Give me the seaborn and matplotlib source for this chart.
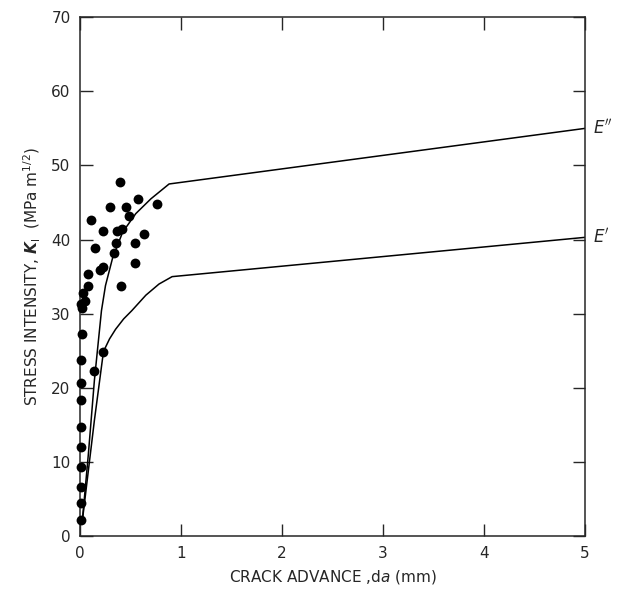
import pandas as pd
import numpy as np
import matplotlib.pyplot as plt
import seaborn as sns

# measured crack advance (mm) vs stress intensity (MPa m^1/2)
pts_da = [0.39, 0.57, 0.29, 0.45, 0.48, 0.76, 0.11, 0.23, 0.36, 0.41, 0.63,
          0.15, 0.35, 0.54, 0.33, 0.54, 0.23, 0.20, 0.08, 0.40, 0.08, 0.03,
          0.05, 0.02, 0.23, 0.14,
          0.02, 0.01, 0.01, 0.01, 0.01, 0.01, 0.01, 0.01, 0.01, 0.01, 0.01]
pts_k = [47.7, 45.5, 44.4, 44.4, 43.2, 44.8, 42.7, 41.2, 41.1, 41.4, 40.8,
         38.8, 39.5, 39.5, 38.2, 36.9, 36.3, 35.9, 35.4, 33.7, 33.7, 32.8,
         31.7, 30.8, 24.9, 22.3,
         27.3, 23.7, 20.6, 18.3, 14.7, 12.0, 9.3, 6.6, 4.4, 2.2, 31.3]

# predicted R-curves
e2_da = [0.02, 0.08, 0.14, 0.21, 0.25, 0.32, 0.42, 0.55, 0.70, 0.88, 5.0]
e2_k = [2.0, 11.0, 21.0, 30.4, 33.8, 37.5, 41.0, 43.5, 45.5, 47.5, 55.0]
e1_da = [0.02, 0.14, 0.23, 0.29, 0.35, 0.43, 0.51, 0.65, 0.78, 0.91, 5.0]
e1_k = [2.0, 15.6, 24.9, 26.6, 27.9, 29.3, 30.4, 32.5, 34.0, 35.0, 40.3]

pts = pd.DataFrame({'da': pts_da, 'k': pts_k})
e2 = pd.DataFrame({'da': e2_da, 'k': e2_k})
e1 = pd.DataFrame({'da': e1_da, 'k': e1_k})

sns.set_style('ticks')
plt.rcParams['font.family'] = ['DejaVu Sans']
plt.rcParams['mathtext.fontset'] = 'dejavusans'

fig = plt.figure(figsize=(6.27, 5.93), dpi=100)
ax = fig.add_axes([0.128, 0.096, 0.805, 0.875])

sns.lineplot(data=e2, x='da', y='k', sort=False, color='black', lw=1.1, ax=ax)
sns.lineplot(data=e1, x='da', y='k', sort=False, color='black', lw=1.1, ax=ax)
sns.scatterplot(data=pts, x='da', y='k', color='black', s=50,
                edgecolor='black', linewidth=0, ax=ax, clip_on=False, zorder=3)

ax.set_xlim(0, 5)
ax.set_ylim(0, 70)
ax.set_xticks(range(0, 6))
ax.set_yticks(range(0, 71, 10))
ax.tick_params(direction='in', length=9, width=1, top=True, right=True,
               labelsize=11, pad=7)
for s in ax.spines.values():
    s.set_linewidth(1.1)

ax.set_xlabel(r'CRACK ADVANCE ,d$\it{a}$ (mm)', fontsize=11, labelpad=5)
ax.set_ylabel(r'STRESS INTENSITY, $\boldsymbol{K}_{\rm I}$  (MPa m$^{1/2}$)',
              fontsize=11, labelpad=6)

ax.text(5.08, e2_k[-1], "$E''$", fontsize=12, va='center', ha='left', clip_on=False)
ax.text(5.08, e1_k[-1], "$E'$", fontsize=12, va='center', ha='left', clip_on=False)

plt.savefig('out.png', dpi=100)
